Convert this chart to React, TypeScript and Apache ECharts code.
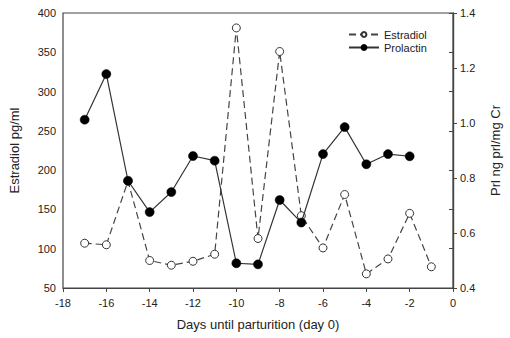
import React, { useEffect, useRef } from "react";
import * as echarts from "echarts";

const days = [-17, -16, -15, -14, -13, -12, -11, -10, -9, -8, -7, -6, -5, -4, -3, -2, -1];
const estradiol = [107, 105, 186, 85, 79, 84, 93, 381, 113, 351, 142, 101, 169, 68, 87, 145, 77];
const prolactinDays = [-17, -16, -15, -14, -13, -12, -11, -10, -9, -8, -7, -6, -5, -4, -3, -2];
const prolactin = [1.012, 1.178, 0.79, 0.676, 0.749, 0.88, 0.863, 0.49, 0.486, 0.72, 0.638, 0.887, 0.985, 0.85, 0.887, 0.879];

const FONT = "Liberation Sans, Arial, sans-serif";
const AX = "#444";
const TXT = "#222";

export default function App() {
  const ref = useRef<HTMLDivElement>(null);
  useEffect(() => {
    if (!ref.current) return;
    const chart = echarts.init(ref.current, undefined, { renderer: "svg" });
    chart.setOption({
      animation: false,
      backgroundColor: "#fff",
      textStyle: { fontFamily: FONT },
      grid: { left: 62, right: 55, top: 13, bottom: 50, show: true, borderColor: AX, borderWidth: 1.2, backgroundColor: "transparent" },
      legend: {
        orient: "vertical",
        left: 343,
        top: 24,
        itemWidth: 30,
        itemHeight: 6,
        itemGap: 2,
        textStyle: { fontSize: 11, color: TXT, fontFamily: FONT },
        data: ["Estradiol", "Prolactin"],
      },
      xAxis: {
        type: "value",
        min: -18,
        max: 0,
        interval: 2,
        name: "Days until parturition (day 0)",
        nameLocation: "middle",
        nameGap: 30,
        nameTextStyle: { fontSize: 13, color: TXT },
        axisLine: { show: true, lineStyle: { color: AX, width: 1.2 } },
        axisTick: { show: true, inside: false, length: 4, lineStyle: { color: AX } },
        axisLabel: { fontSize: 11, color: TXT, margin: 9 },
        splitLine: { show: false },
      },
      yAxis: [
        {
          type: "value",
          min: 50,
          max: 400,
          interval: 50,
          name: "Estradiol pg/ml",
          nameLocation: "middle",
          nameGap: 42,
          nameRotate: 90,
          nameTextStyle: { fontSize: 13, color: TXT },
          axisLine: { show: true, lineStyle: { color: AX, width: 1.2 } },
          axisTick: { show: true, inside: false, length: 4, lineStyle: { color: AX } },
          axisLabel: { fontSize: 11, color: TXT, margin: 7 },
          splitLine: { show: false },
        },
        {
          type: "value",
          min: 0.4,
          max: 1.4,
          interval: 0.2,
          position: "right",
          name: "Prl ng prl/mg Cr",
          nameLocation: "middle",
          nameGap: 36,
          nameRotate: 90,
          nameTextStyle: { fontSize: 13, color: TXT },
          axisLine: { show: true, lineStyle: { color: AX, width: 1.2 } },
          axisTick: { show: true, inside: false, length: 4, lineStyle: { color: AX } },
          axisLabel: { fontSize: 11, color: TXT, margin: 7, formatter: (v: number) => v.toFixed(1) },
          splitLine: { show: false },
        },
      ],
      series: [
        {
          name: "Estradiol",
          type: "line",
          yAxisIndex: 0,
          data: days.map((d, i) => [d, estradiol[i]]),
          symbol: "circle",
          symbolSize: 8,
          itemStyle: { color: "#fff", borderColor: "#333", borderWidth: 1 },
          lineStyle: { color: "#444", width: 1.2, type: [7, 4] },
          z: 3,
        },
        {
          name: "Prolactin",
          type: "line",
          yAxisIndex: 1,
          data: prolactinDays.map((d, i) => [d, prolactin[i]]),
          symbol: "circle",
          symbolSize: 9,
          itemStyle: { color: "#000", borderColor: "#000", borderWidth: 0.5 },
          lineStyle: { color: "#333", width: 1.2 },
          z: 4,
        },
      ],
    });
    return () => chart.dispose();
  }, []);
  return <div ref={ref} style={{ width: 510, height: 338, position: "absolute", left: 0, top: 0 }} />;
}
